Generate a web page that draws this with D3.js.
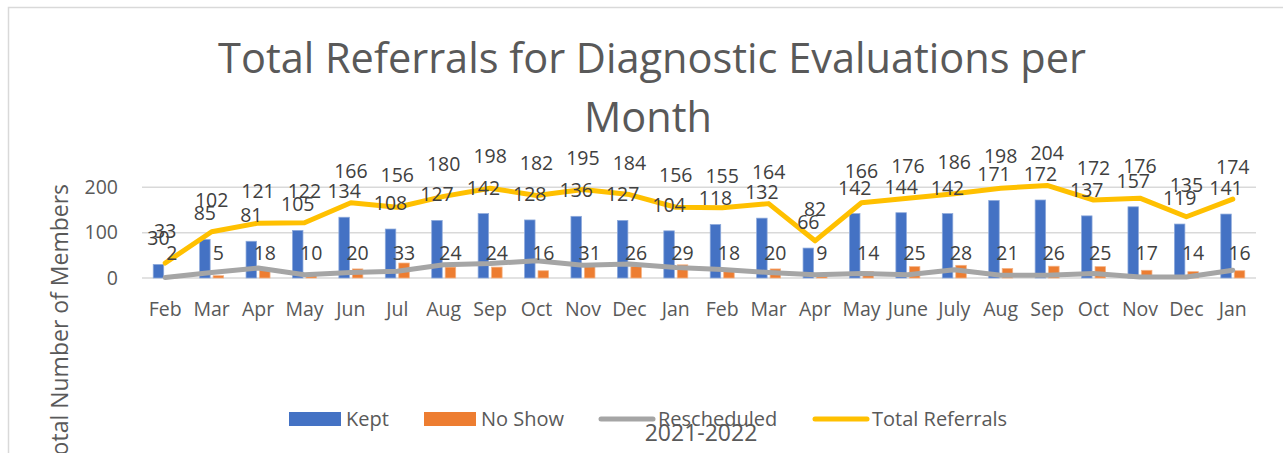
<!DOCTYPE html>
<html>
<head>
<meta charset="utf-8">
<script src="https://cdn.jsdelivr.net/npm/d3@7"></script>
<style>
  body { margin: 0; background: #fff; }
  svg { display: block; }
  text { font-family: "Open Sans", sans-serif; }
</style>
</head>
<body>
<div id="chart"></div>
<script>
// Monthly referral counts, Feb 2021 - Jan 2023
const months = ["Feb", "Mar", "Apr", "May", "Jun", "Jul", "Aug", "Sep", "Oct", "Nov", "Dec", "Jan",
  "Feb", "Mar", "Apr", "May", "June", "July", "Aug", "Sep", "Oct", "Nov", "Dec", "Jan"];
const kept = [30, 85, 81, 105, 134, 108, 127, 142, 128, 136, 127, 104,
  118, 132, 66, 142, 144, 142, 171, 172, 137, 157, 119, 141];
const noShow = [2, 5, 18, 10, 20, 33, 24, 24, 16, 31, 26, 29,
  18, 20, 9, 14, 25, 28, 21, 26, 25, 17, 14, 16];
const rescheduled = [1, 12, 22, 7, 12, 15, 29, 32, 38, 28, 31, 23,
  19, 12, 7, 10, 7, 18, 6, 6, 10, 2, 2, 17];
const totalReferrals = [33, 102, 121, 122, 166, 156, 180, 198, 182, 195, 184, 156,
  155, 164, 82, 166, 176, 186, 198, 204, 172, 176, 135, 174];
const yTicks = [0, 100, 200];

const width = 1283, height = 453;
const plot = { left: 142, right: 1256, top: 187.3, bottom: 278 };

const colors = { kept: "#4472c4", noShow: "#ed7d31", rescheduled: "#a5a5a5", total: "#ffc000" };
const axisGrey = "#595959", labelGrey = "#404040";

const svg = d3.select("#chart").append("svg")
  .attr("width", width)
  .attr("height", height);

// chart area border (only top and left visible in the crop)
svg.append("path")
  .attr("d", `M8.5,${height}V7.5H${width}`)
  .attr("fill", "none")
  .attr("stroke", "#d9d9d9")
  .attr("stroke-width", 1.5);

// title on two lines
const titleLines = ["Total Referrals for Diagnostic Evaluations per", "Month"];
svg.selectAll(".title")
  .data(titleLines)
  .join("text")
  .attr("class", "title")
  .attr("x", (d, i) => i ? 648 : 652)
  .attr("y", (d, i) => i ? 132 : 73)
  .attr("text-anchor", "middle")
  .attr("fill", axisGrey)
  .style("font-size", "41.5px")
  .text(d => d);

const x = d3.scaleBand()
  .domain(d3.range(months.length))
  .range([plot.left, plot.right]);
const bw = x.bandwidth();

const xSub = d3.scaleBand()
  .domain(["kept", "noShow"])
  .range([bw / 2 - 12, bw / 2 + 12])
  .paddingInner(0.22);

const y = d3.scaleLinear()
  .domain([0, 200])
  .range([plot.bottom, plot.top]);

// gridlines
svg.append("g")
  .selectAll("line")
  .data(yTicks)
  .join("line")
  .attr("x1", plot.left)
  .attr("x2", plot.right)
  .attr("y1", d => y(d))
  .attr("y2", d => y(d))
  .attr("stroke", "#d9d9d9")
  .attr("stroke-width", 1.5);

// y axis labels
const yAxis = svg.append("g")
  .attr("transform", `translate(${plot.left},0)`)
  .call(d3.axisLeft(y).tickValues(yTicks).tickSize(0).tickPadding(24));
yAxis.select(".domain").remove();
yAxis.selectAll("text")
  .attr("fill", axisGrey)
  .style("font-size", "19.5px")
  .style("font-family", "'Open Sans', sans-serif");

// x axis labels
const xAxis = svg.append("g")
  .attr("transform", `translate(0,${plot.bottom})`)
  .call(d3.axisBottom(x).tickFormat(i => months[i]).tickSize(0).tickPadding(24));
xAxis.select(".domain").remove();
xAxis.selectAll("text")
  .attr("fill", axisGrey)
  .style("font-size", "19.5px")
  .style("font-family", "'Open Sans', sans-serif");

// bars
const bars = svg.append("g");
bars.selectAll(".kept")
  .data(kept)
  .join("rect")
  .attr("class", "kept")
  .attr("x", (d, i) => x(i) + xSub("kept"))
  .attr("width", xSub.bandwidth())
  .attr("y", d => y(d))
  .attr("height", d => y(0) - y(d))
  .attr("fill", colors.kept)
  .attr("stroke", "#8eaadb")
  .attr("stroke-width", 0.75);

bars.selectAll(".noshow")
  .data(noShow)
  .join("rect")
  .attr("class", "noshow")
  .attr("x", (d, i) => x(i) + xSub("noShow"))
  .attr("width", xSub.bandwidth())
  .attr("y", d => y(d))
  .attr("height", d => y(0) - y(d))
  .attr("fill", colors.noShow)
  .attr("stroke", "#f4b183")
  .attr("stroke-width", 0.75);

// lines
const line = d3.line()
  .x((d, i) => x(i) + bw / 2)
  .y(d => y(d));

svg.append("path")
  .datum(rescheduled)
  .attr("d", line)
  .attr("fill", "none")
  .attr("stroke", colors.rescheduled)
  .attr("stroke-width", 5)
  .attr("stroke-linejoin", "round")
  .attr("stroke-linecap", "round");

svg.append("path")
  .datum(totalReferrals)
  .attr("d", line)
  .attr("fill", "none")
  .attr("stroke", colors.total)
  .attr("stroke-width", 5)
  .attr("stroke-linejoin", "round")
  .attr("stroke-linecap", "round");

// data labels
const labels = svg.append("g")
  .attr("text-anchor", "middle")
  .attr("fill", labelGrey)
  .style("font-size", "19.5px");

labels.selectAll(".lk")
  .data(kept)
  .join("text")
  .attr("x", (d, i) => x(i) + xSub("kept") + xSub.bandwidth() / 2)
  .attr("y", d => y(d) - 19)
  .text(d => d);

labels.selectAll(".ln")
  .data(noShow)
  .join("text")
  .attr("class", "ln")
  .attr("x", (d, i) => x(i) + xSub("noShow") + xSub.bandwidth() / 2)
  .attr("y", y(0) - 18)
  .text(d => d);

labels.selectAll(".lt")
  .data(totalReferrals)
  .join("text")
  .attr("class", "lt")
  .attr("x", (d, i) => x(i) + bw / 2)
  .attr("y", d => y(d) - 25)
  .text(d => d);

// axis titles
svg.append("text")
  .attr("transform", "translate(68,326) rotate(-90)")
  .attr("text-anchor", "middle")
  .attr("fill", axisGrey)
  .style("font-size", "23px")
  .text("Total Number of Members");

// legend
const legendItems = [
  { name: "Kept", color: colors.kept, type: "rect", x: 289 },
  { name: "No Show", color: colors.noShow, type: "rect", x: 424 },
  { name: "Rescheduled", color: colors.rescheduled, type: "line", x: 599 },
  { name: "Total Referrals", color: colors.total, type: "line", x: 813 }
];
const legend = svg.append("g");
const item = legend.selectAll("g")
  .data(legendItems)
  .join("g")
  .attr("transform", d => `translate(${d.x},419)`);
item.filter(d => d.type === "rect")
  .append("rect")
  .attr("x", 0).attr("y", -7)
  .attr("width", 52).attr("height", 14)
  .attr("fill", d => d.color);
item.filter(d => d.type === "line")
  .append("line")
  .attr("x1", 2).attr("x2", 54)
  .attr("stroke", d => d.color)
  .attr("stroke-width", 5)
  .attr("stroke-linecap", "round");
item.append("text")
  .attr("x", d => d.type === "rect" ? 57 : 59)
  .attr("y", 7)
  .attr("fill", axisGrey)
  .style("font-size", "20px")
  .text(d => d.name);

svg.append("text")
  .attr("x", 701)
  .attr("y", 441)
  .attr("text-anchor", "middle")
  .attr("fill", axisGrey)
  .style("font-size", "23px")
  .text("2021-2022");
</script>
</body>
</html>
